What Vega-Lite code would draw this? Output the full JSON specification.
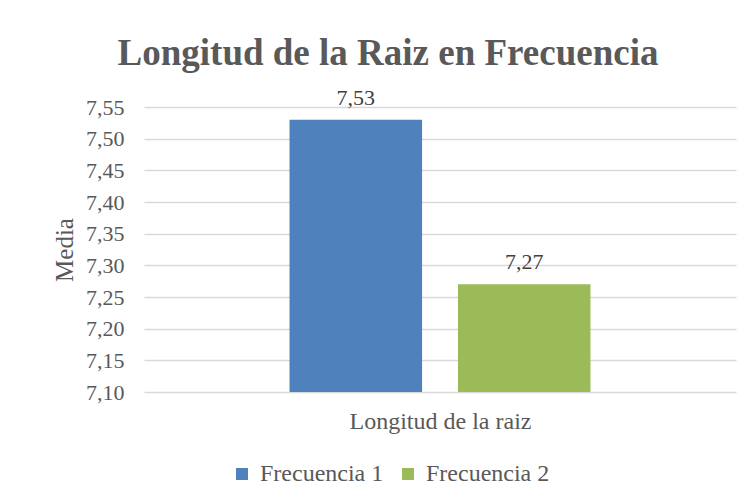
{
  "$schema": "https://vega.github.io/schema/vega-lite/v6.json",
  "autosize": "none",
  "width": 592,
  "height": 285,
  "padding": {"left": 144, "top": 107, "right": 19, "bottom": 107},
  "background": "white",
  "title": {
    "text": "Longitud de la Raiz en Frecuencia",
    "font": "Liberation Serif",
    "fontSize": 37,
    "fontWeight": "bold",
    "color": "#595959",
    "anchor": "middle",
    "dx": -52,
    "dy": 8,
    "offset": 22
  },
  "data": {
    "values": [
      {"serie": "Frecuencia 1", "media": 7.53},
      {"serie": "Frecuencia 2", "media": 7.27}
    ]
  },
  "encoding": {
    "x": {
      "field": "serie",
      "type": "nominal",
      "scale": {"paddingInner": 0.213, "paddingOuter": 0.864},
      "axis": {
        "title": "Longitud de la raiz",
        "labels": false,
        "ticks": false,
        "domain": false,
        "titleFont": "Liberation Serif",
        "titleFontSize": 24,
        "titleFontWeight": "normal",
        "titleColor": "#595959",
        "titlePadding": 17
      }
    },
    "y": {
      "field": "media",
      "type": "quantitative",
      "scale": {"domain": [7.1, 7.55], "zero": false, "nice": false},
      "axis": {
        "title": "Media",
        "values": [7.1, 7.15, 7.2, 7.25, 7.3, 7.35, 7.4, 7.45, 7.5, 7.55],
        "labelExpr": "replace(format(datum.value, '.2f'), '.', ',')",
        "labelFont": "Liberation Serif",
        "labelFontSize": 22,
        "labelColor": "#595959",
        "labelPadding": 20,
        "ticks": false,
        "domain": false,
        "gridColor": "#D9D9D9",
        "gridWidth": 1.3,
        "titleFont": "Liberation Serif",
        "titleFontSize": 25,
        "titleFontWeight": "normal",
        "titleColor": "#595959",
        "titlePadding": 8
      }
    }
  },
  "layer": [
    {
      "mark": {"type": "bar"},
      "encoding": {
        "y2": {"datum": 7.1},
        "color": {
          "field": "serie",
          "type": "nominal",
          "scale": {"domain": ["Frecuencia 1", "Frecuencia 2"], "range": ["#4F81BD", "#9BBB59"]},
          "legend": {
            "title": null,
            "orient": "none",
            "direction": "horizontal",
            "legendX": 86,
            "legendY": 355,
            "symbolType": "square",
            "symbolSize": 144,
            "symbolStrokeWidth": 0,
            "labelFont": "Liberation Serif",
            "labelFontSize": 24,
            "labelColor": "#595959",
            "columnPadding": 12,
            "labelOffset": 6
          }
        }
      }
    },
    {
      "transform": [{"calculate": "replace(format(datum.media, '.2f'), '.', ',')", "as": "etiqueta"}],
      "mark": {"type": "text", "dy": -22, "font": "Liberation Serif", "fontSize": 22, "color": "#404040", "baseline": "middle"},
      "encoding": {"text": {"field": "etiqueta", "type": "nominal"}}
    }
  ],
  "config": {"view": {"stroke": null}}
}
